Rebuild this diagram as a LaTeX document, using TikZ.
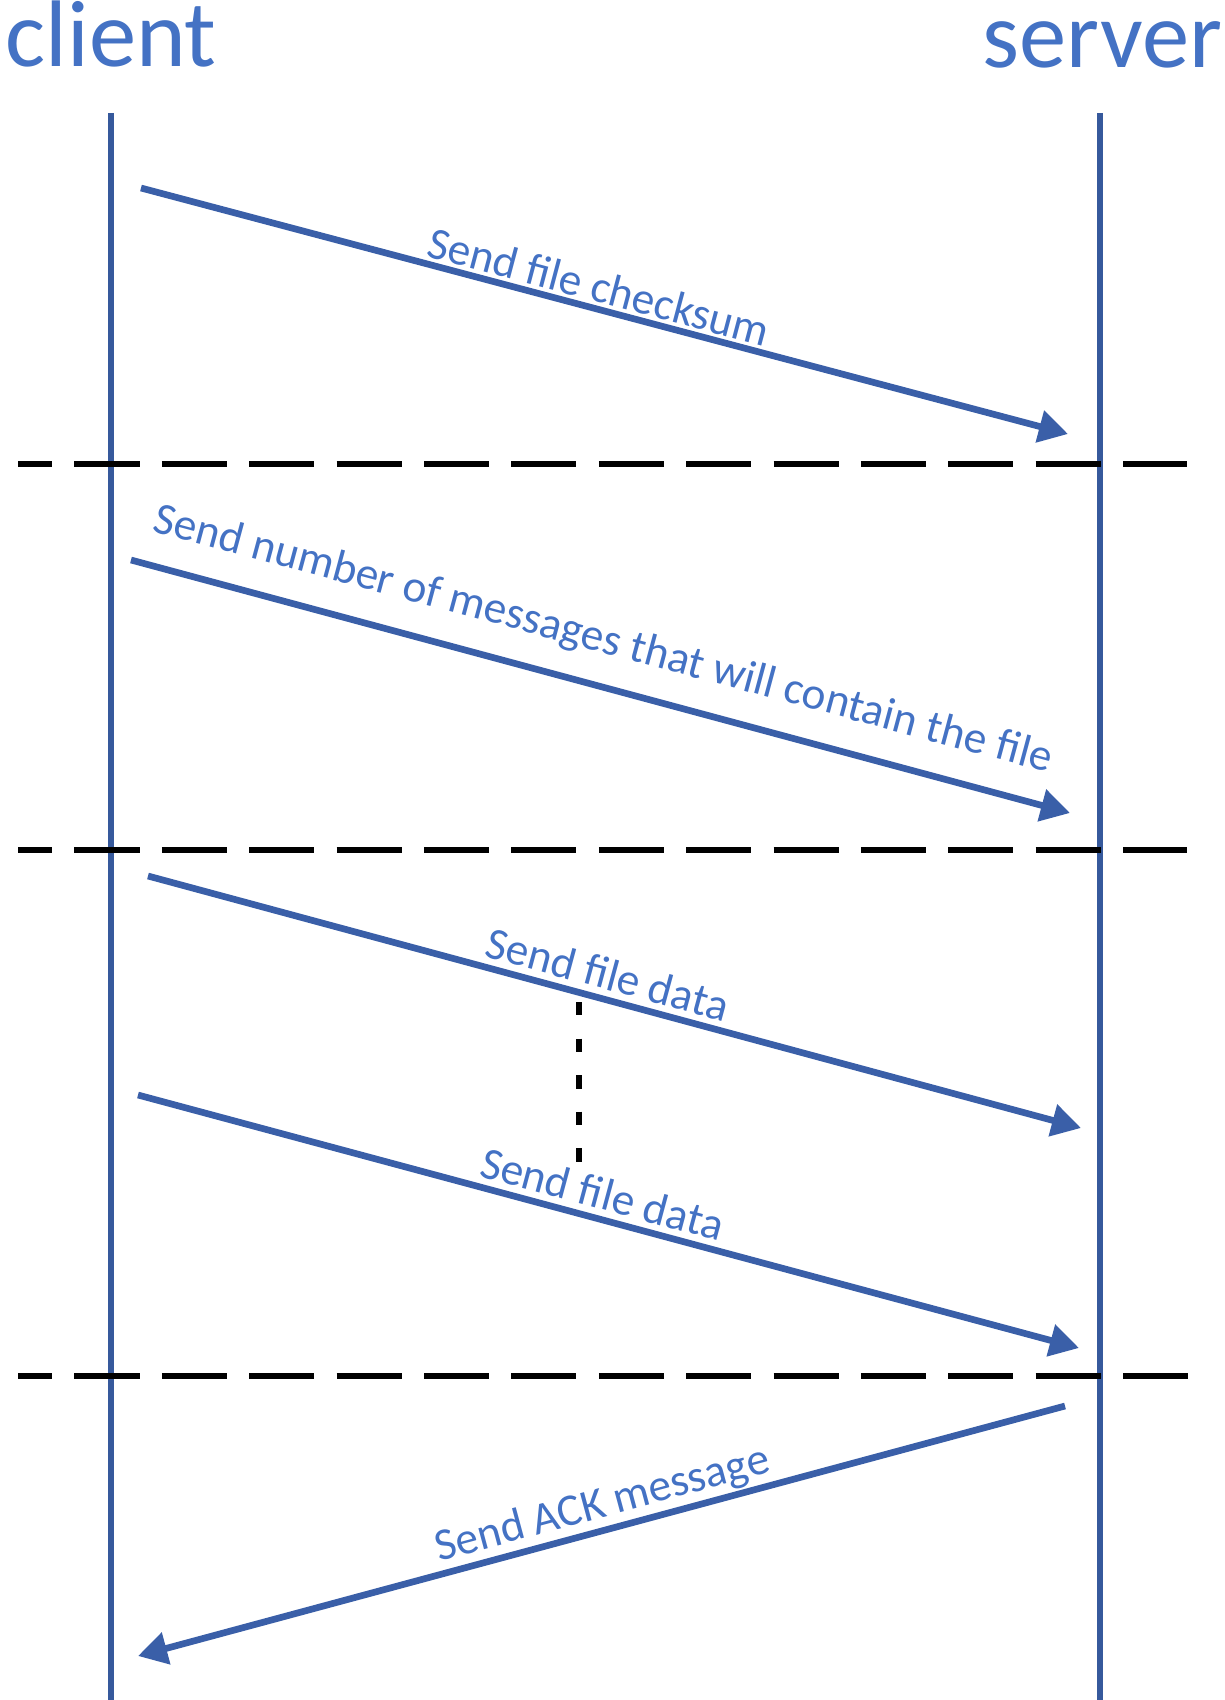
\documentclass[tikz,border=0pt]{standalone}
\usepackage{fontspec}
\setmainfont{Carlito}
\usetikzlibrary{arrows.meta}
\usetikzlibrary{positioning}

\definecolor{lanecol}{HTML}{36599C}
\definecolor{msgcol}{HTML}{3A5FA8}
\definecolor{txtcol}{HTML}{4472C4}

\tikzset{
    lane/.style={draw=lanecol, line width=1.6pt},
    msg/.style={draw=msgcol, line width=1.9pt, -{Triangle[length=8.3pt,width=9pt]}},
    lbl/.style={text=txtcol, font=\fontsize{12.9}{15}\selectfont, sloped, inner sep=0pt},
    title/.style={text=txtcol, font=\fontsize{26.9}{30}\selectfont, inner sep=0pt},
    stage/.style={line width=1.9pt, dash pattern=on 18.5pt off 6.35pt, dash phase=8.8pt},
    gapmark/.style={line width=1.9pt, dash pattern=on 3.8pt off 6.6pt}
}

\begin{document}
\begin{tikzpicture}[x=0.01cm, y=-0.01cm]
        \useasboundingbox (0,0) rectangle (1224,1700);

        % Lifelines
        \node[title, anchor=base west] (client) at (5,67) {client};
        \node[title, anchor=base east] (server) at (1223,68) {server};

        \coordinate (ctop) at (111,113);
        \coordinate (cbot) at (111,1700);
        \coordinate (stop) at (1100,113);
        \coordinate (sbot) at (1100,1700);

        \draw[lane] (ctop)--(cbot);
        \draw[lane] (stop)--(sbot);

        % Phases
        \coordinate (d1a) at (18,464);
        \coordinate (d1b) at (1187,464);
        \coordinate (d2a) at (18,850);
        \coordinate (d2b) at (1187,850);
        \coordinate (d3a) at (18,1376);
        \coordinate (d3b) at (1190,1376);

        \foreach \p in {1,2,3}{
            \draw[stage] (d\p a)--(d\p b);
        }

        % Messages
        \coordinate (c1) at (141,188);
        \coordinate (s1) at (1068,434);
        \coordinate (c2) at (131,560);
        \coordinate (s2) at (1070,813);
        \coordinate (c3) at (148,876);
        \coordinate (s3) at (1081,1128);
        \coordinate (c4) at (138,1095);
        \coordinate (s4) at (1079,1348);
        \coordinate (s5) at (1065,1406);
        \coordinate (c5) at (138,1656);

        \draw[msg] (c1)--(s1) node[lbl, pos=0.488, above=0.9pt] (l1) {Send file checksum};
        \draw[msg] (c2)--(s2) node[lbl, pos=0.49, above=6.3pt] (l2) {Send number of messages that will contain the file};
        \draw[msg] (c3)--(s3) node[lbl, pos=0.486, above=1.7pt] (l3) {Send file data};
        \draw[msg] (c4)--(s4) node[lbl, pos=0.487, above=1.7pt] (l4) {Send file data};
        \draw[msg] (s5)--(c5) node[lbl, pos=0.492, above=0.5pt] (l5) {Send ACK message};

        % Repeated data
        \coordinate (g1) at (579,1002);
        \coordinate (g2) at (579,1162);
        \draw[gapmark] (g1)--(g2);
    \end{tikzpicture}
\end{document}
